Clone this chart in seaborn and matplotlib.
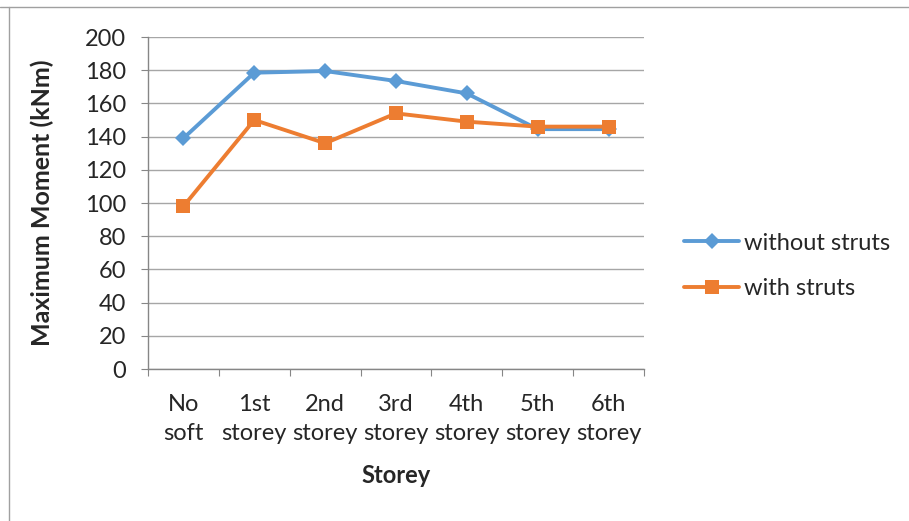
import matplotlib
matplotlib.use("Agg")
import matplotlib.pyplot as plt
from matplotlib.lines import Line2D
import pandas as pd
import seaborn as sns

# data
storeys = ["No\nsoft", "1st\nstorey", "2nd\nstorey", "3rd\nstorey", "4th\nstorey", "5th\nstorey", "6th\nstorey"]
without_struts = [139, 178.5, 179.5, 173.5, 166, 144.5, 144.5]
with_struts = [98, 150, 136, 154, 149, 146, 146]
series_names = ["without struts", "with struts"]

df = pd.DataFrame({
    "pos": list(range(len(storeys))) * 2,
    "moment": without_struts + with_struts,
    "series": [series_names[0]] * len(storeys) + [series_names[1]] * len(storeys),
})

sns.set_style("white")
plt.rcParams["font.family"] = ["Lato", "DejaVu Sans"]
FS = 17

fig = plt.figure(figsize=(9.09, 5.21), dpi=100)
ax = fig.add_axes([148 / 909, 1 - 369 / 521, (644 - 148) / 909, (369 - 37) / 521])

colors = {"without struts": "#5B9BD5", "with struts": "#ED7D31"}
sns.lineplot(data=df, x="pos", y="moment", hue="series", style="series",
             palette=colors, markers={"without struts": "D", "with struts": "s"},
             dashes=False, linewidth=2.8, markersize=10, markeredgewidth=0,
             ax=ax, legend=False)
# diamond a bit smaller
for ln in ax.lines:
    if ln.get_marker() == "D":
        ln.set_markersize(8)

ax.set_xlim(-0.5, len(storeys) - 0.5)
ax.set_ylim(0, 200)
ax.set_yticks(range(0, 201, 20))
ax.set_yticklabels([str(v) for v in range(0, 201, 20)], fontsize=FS)
ax.set_xticks([i - 0.5 for i in range(len(storeys) + 1)])
ax.set_xticklabels([])
ax.set_xticks(range(len(storeys)), minor=True)
ax.set_xticklabels(storeys, minor=True, fontsize=FS, linespacing=1.5)
ax.tick_params(axis="x", which="minor", length=0, pad=18)
ax.tick_params(axis="x", which="major", length=5, color="#868686", direction="out", bottom=True)
ax.tick_params(axis="y", length=5, color="#868686", direction="out", left=True, pad=11)

ax.yaxis.grid(True, color="#A6A6A6", linewidth=1)
ax.set_axisbelow(True)
for s in ["top", "right"]:
    ax.spines[s].set_visible(False)
for s in ["left", "bottom"]:
    ax.spines[s].set_color("#868686")
    ax.spines[s].set_linewidth(1)

ax.set_xlabel("Storey", fontsize=FS, fontweight="bold", labelpad=14)
ax.set_ylabel("Maximum Moment (kNm)", fontsize=FS + 1, fontweight="bold", labelpad=22)

handles = [
    Line2D([], [], color=colors["without struts"], marker="D", markersize=8, linewidth=2.8, markeredgewidth=0),
    Line2D([], [], color=colors["with struts"], marker="s", markersize=10, linewidth=2.8, markeredgewidth=0),
]
fig.legend(handles, series_names, loc="center left", bbox_to_anchor=(684 / 909, 1 - 266 / 521),
           frameon=False, fontsize=FS, handlelength=2.35, handletextpad=0.2, labelspacing=1.05,
           borderpad=0, borderaxespad=0)

# outer frame lines of the original picture
fig.add_artist(Line2D([0, 1], [1 - 7 / 521, 1 - 7 / 521], color="#A0A0A0", linewidth=1))
fig.add_artist(Line2D([9 / 909, 9 / 909], [0, 1 - 7 / 521], color="#A0A0A0", linewidth=1))

fig.savefig("out.png", dpi=100)
